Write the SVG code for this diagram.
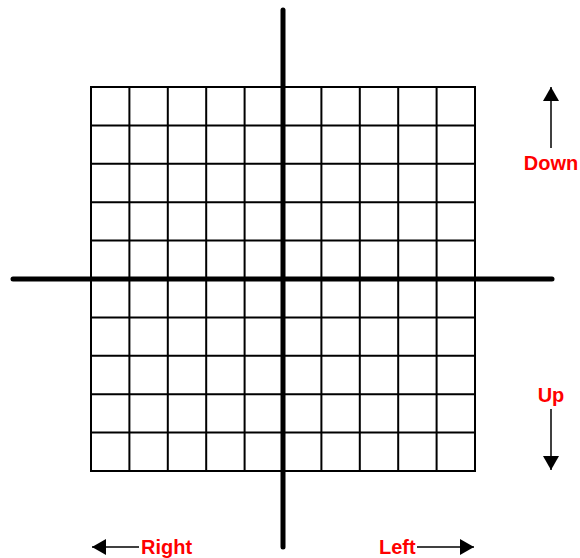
<svg xmlns="http://www.w3.org/2000/svg" width="580" height="558" viewBox="0 0 580 558">
<style>
.grid{stroke:#000;stroke-width:2;fill:none}
.axis{stroke:#000;stroke-width:5;stroke-linecap:round}
.arr{stroke:#000;stroke-width:1.5}
.lbl{font-family:"Liberation Sans",Arial,sans-serif;font-weight:bold;font-size:20px;fill:#ff0000}
</style>
<defs>
<marker id="ah" markerWidth="14" markerHeight="16" refX="14" refY="8" orient="auto" markerUnits="userSpaceOnUse">
<path d="M0,0 L14,8 L0,16 Z" fill="#000"/>
</marker>
</defs>
<g id="grid">
<rect class="grid" x="91" y="87" width="384" height="384"/>
<path class="grid" d="M129.4,87V471M167.8,87V471M206.2,87V471M244.6,87V471M321.4,87V471M359.8,87V471M398.2,87V471M436.6,87V471M91,125.4H475M91,163.8H475M91,202.2H475M91,240.6H475M91,317.4H475M91,355.8H475M91,394.2H475M91,432.6H475"/>
</g>
<g id="axes">
<line class="axis" x1="283" y1="10" x2="283" y2="547"/>
<line class="axis" x1="13" y1="279" x2="552" y2="279"/>
</g>
<g id="connectors">
<line class="arr" x1="551" y1="148" x2="551" y2="87" marker-end="url(#ah)"/>
<line class="arr" x1="551" y1="409" x2="551" y2="470" marker-end="url(#ah)"/>
<line class="arr" x1="139" y1="547" x2="92" y2="547" marker-end="url(#ah)"/>
<line class="arr" x1="417" y1="547" x2="474" y2="547" marker-end="url(#ah)"/>
</g>
<g id="label-down"><text class="lbl" x="551" y="170" text-anchor="middle">Down</text></g>
<g id="label-up"><text class="lbl" x="551" y="402" text-anchor="middle">Up</text></g>
<g id="label-right"><text class="lbl" x="141" y="554">Right</text></g>
<g id="label-left"><text class="lbl" x="379" y="554">Left</text></g>
</svg>
